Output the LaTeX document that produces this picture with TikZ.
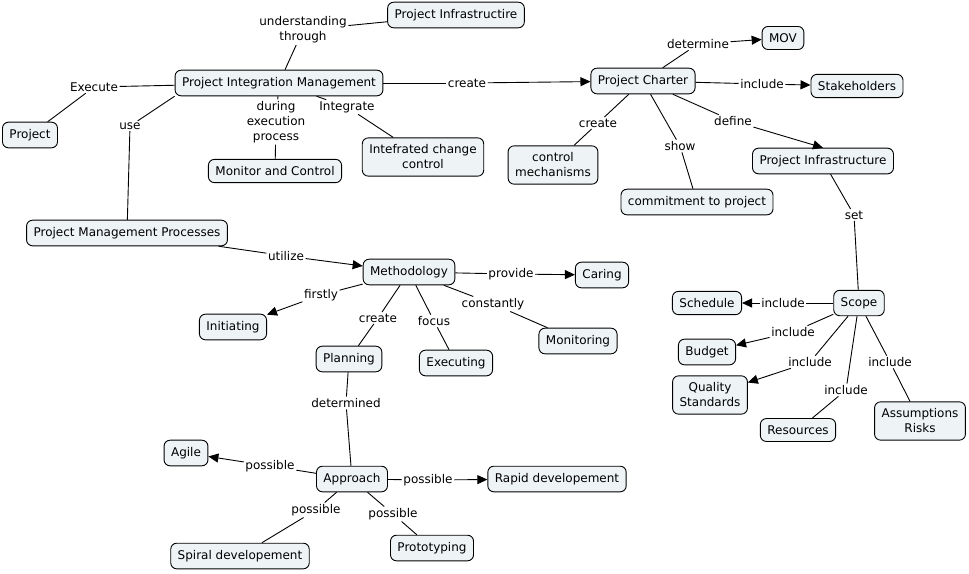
\documentclass[tikz,border=0pt]{standalone}
\usepackage{fontspec}
\setmainfont{DejaVu Sans}
\usetikzlibrary{arrows.meta}
\definecolor{boxfill}{HTML}{EEF3F5}
\begin{document}
\begin{tikzpicture}[x=1pt,y=-1pt,
  concept/.style={draw=black, line width=0.9pt, fill=boxfill, rounded corners=6pt,
    inner xsep=7pt, inner ysep=7pt, align=center, font=\fontsize{12}{15}\selectfont},
  linklabel/.style={inner sep=1.5pt, align=center, font=\fontsize{12}{15}\selectfont},
  link/.style={line width=0.9pt},
  arrowlink/.style={link, -{Triangle[length=10pt,width=9pt]}}]
\useasboundingbox (0,0) rectangle (969,573);
% concepts
\node[concept] (pinfra) at (456,15) {Project Infrastructire};
\node[concept] (pim) at (279,83) {Project Integration Management};
\node[concept] (project) at (30,135) {Project};
\node[concept] (monitor) at (275,171) {Monitor and Control};
\node[concept] (icc) at (423,157) {Intefrated change\\control};
\node[concept] (pc) at (643,81) {Project Charter};
\node[concept] (mov) at (783,38) {MOV};
\node[concept] (stake) at (857,86) {Stakeholders};
\node[concept] (ctrl) at (553,165) {control\\mechanisms};
\node[concept] (commit) at (697,202) {commitment to project};
\node[concept] (pinf) at (823,161) {Project Infrastructure};
\node[concept] (pmp) at (127,233) {Project Management Processes};
\node[concept] (meth) at (409,272) {Methodology};
\node[concept] (caring) at (602,275) {Caring};
\node[concept] (init) at (233,327) {Initiating};
\node[concept] (plan) at (349,359) {Planning};
\node[concept] (exec) at (456,363) {Executing};
\node[concept] (monit) at (578,341) {Monitoring};
\node[concept] (scope) at (859,303) {Scope};
\node[concept] (sched) at (707,303) {Schedule};
\node[concept] (budget) at (707,352) {Budget};
\node[concept] (quality) at (710,395) {Quality\\Standards};
\node[concept] (res) at (798,430) {Resources};
\node[concept] (assum) at (920,421) {Assumptions\\Risks};
\node[concept] (agile) at (186,453) {Agile};
\node[concept] (appr) at (352,479) {Approach};
\node[concept] (rapid) at (557,479) {Rapid developement};
\node[concept] (spiral) at (240,556) {Spiral developement};
\node[concept] (proto) at (432,548) {Prototyping};
% link labels
\node[linklabel] (lut) at (303,30) {understanding\\through};
\node[linklabel] (lexe) at (94,87) {Execute};
\node[linklabel] (luse) at (130,126) {use};
\node[linklabel] (ldur) at (276,122) {during\\execution\\process};
\node[linklabel] (lint) at (347,107) {Integrate};
\node[linklabel] (lcra) at (467,83) {create};
\node[linklabel] (ldet) at (698,44) {determine};
\node[linklabel] (linc) at (762,84) {include};
\node[linklabel] (lcrb) at (598,123) {create};
\node[linklabel] (lshow) at (680,146) {show};
\node[linklabel] (ldef) at (733,121) {define};
\node[linklabel] (lset) at (854,215) {set};
\node[linklabel] (lutil) at (286,256) {utilize};
\node[linklabel] (lprov) at (511,274) {provide};
\node[linklabel] (lfirst) at (321,295) {firstly};
\node[linklabel] (lcrc) at (378,318) {create};
\node[linklabel] (lfocus) at (434,321) {focus};
\node[linklabel] (lconst) at (493,304) {constantly};
\node[linklabel] (ldetd) at (346,403) {determined};
\node[linklabel] (lia) at (783,303) {include};
\node[linklabel] (lib) at (793,332) {include};
\node[linklabel] (lic) at (810,362) {include};
\node[linklabel] (lid) at (846,390) {include};
\node[linklabel] (lie) at (890,362) {include};
\node[linklabel] (lpa) at (270,466) {possible};
\node[linklabel] (lpb) at (428,480) {possible};
\node[linklabel] (lpc) at (316,510) {possible};
\node[linklabel] (lpd) at (393,514) {possible};
% connectors
\draw[link] (pim) -- (lut);
\draw[link] (lut) -- (pinfra);
\draw[link] (pim) -- (lexe);
\draw[link] (lexe) -- (project);
\draw[link] (pim.south west) -- (luse);
\draw[link] (luse) -- (pmp);
\draw[link] (pim) -- (ldur);
\draw[link] (ldur) -- (monitor);
\draw[link] (pim) -- (lint);
\draw[link] (lint) -- (icc);
\draw[link] (pim) -- (lcra);
\draw[arrowlink] (lcra) -- (pc);
\draw[link] (pc) -- (ldet);
\draw[arrowlink] (ldet) -- (mov);
\draw[link] (pc) -- (linc);
\draw[arrowlink] (linc) -- (stake);
\draw[link] (pc) -- (lcrb);
\draw[link] (lcrb) -- (ctrl);
\draw[link] (pc) -- (lshow);
\draw[link] (lshow) -- (commit);
\draw[link] (pc) -- (ldef);
\draw[arrowlink] (ldef) -- (pinf.north);
\draw[link] (pinf) -- (lset);
\draw[link] (lset) -- (scope);
\draw[link] (pmp) -- (lutil);
\draw[arrowlink] (lutil) -- (meth);
\draw[link] (meth) -- (lprov);
\draw[arrowlink] (lprov) -- (caring);
\draw[link] (meth) -- (lfirst);
\draw[arrowlink] (lfirst) -- (init);
\draw[link] (meth) -- (lcrc);
\draw[link] (lcrc) -- (plan);
\draw[link] (meth) -- (lfocus);
\draw[link] (lfocus) -- (exec);
\draw[link] (meth) -- (lconst);
\draw[link] (lconst) -- (monit);
\draw[link] (plan) -- (ldetd);
\draw[link] (ldetd) -- (appr);
\draw[link] (appr) -- (lpa);
\draw[arrowlink] (lpa) -- (agile);
\draw[link] (appr) -- (lpb);
\draw[arrowlink] (lpb) -- (rapid);
\draw[link] (appr) -- (lpc);
\draw[link] (lpc) -- (spiral);
\draw[link] (appr) -- (lpd);
\draw[link] (lpd) -- (proto);
\draw[link] (scope) -- (lia);
\draw[arrowlink] (lia) -- (sched);
\draw[link] (scope) -- (lib);
\draw[arrowlink] (lib) -- (budget);
\draw[link] (scope) -- (lic);
\draw[arrowlink] (lic) -- (quality);
\draw[link] (scope) -- (lid);
\draw[link] (lid) -- (res);
\draw[link] (scope) -- (lie);
\draw[link] (lie) -- (assum);
\end{tikzpicture}
\end{document}
